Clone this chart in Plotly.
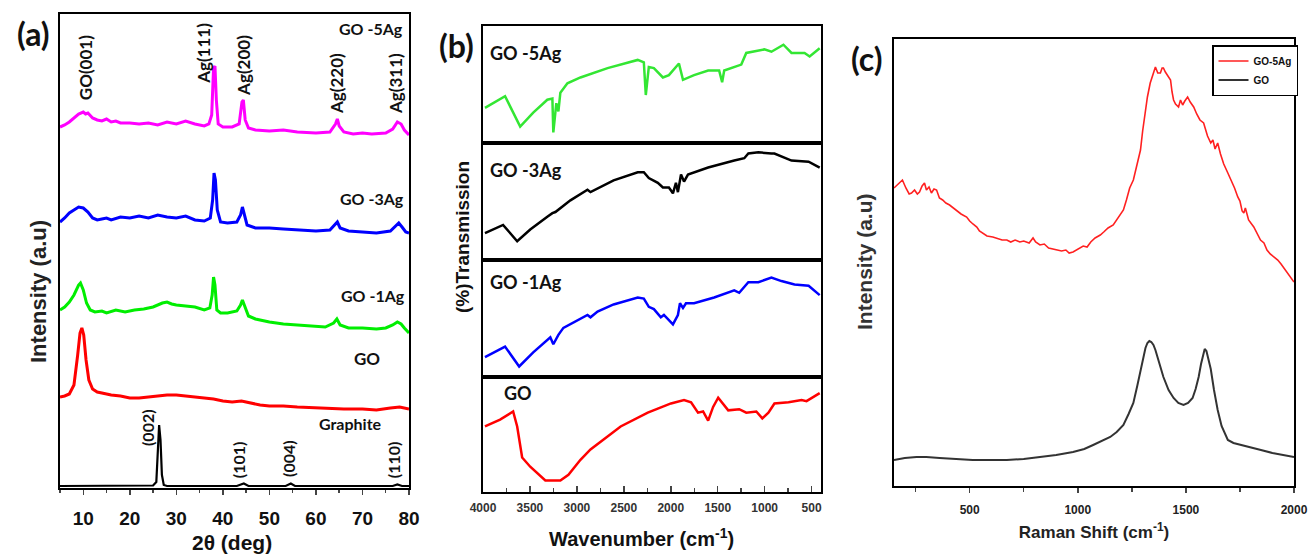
import plotly.graph_objects as go

W, H = 1309, 554

# ---------------- Panel (a): XRD ----------------
two_theta_5ag = [5, 6, 7, 8, 9, 10, 10.5, 11, 12, 13, 14, 15, 16, 17, 18, 20, 22, 24, 26, 28, 30, 32, 34, 36, 37,
                 37.6, 38.0, 38.3, 38.6, 39, 40, 42, 43.5, 44.1, 44.4, 44.8, 45.5, 47, 50, 53, 56, 60, 63, 64.2, 64.6,
                 65, 66, 68, 70, 72, 75, 76.5, 77.5, 78.3, 79, 80]
int_5ag = [361, 363, 366, 370, 374, 376, 374, 375, 370, 368, 367, 369, 366, 367, 365, 365, 364, 365, 363, 366, 364,
           367, 364, 362, 364, 373, 420, 422, 388, 364, 361, 361, 364, 386, 388, 368, 360, 358, 357, 358, 356, 355,
           356, 364, 369, 362, 356, 354, 355, 354, 355, 359, 366, 364, 358, 353]

two_theta_3ag = [5, 6, 7, 8, 9, 10, 11, 12, 13, 14, 15, 16, 18, 20, 22, 24, 26, 28, 30, 32, 34, 36, 37.3, 37.8, 38.1,
                 38.4, 38.8, 39.5, 41, 43, 43.8, 44.2, 44.6, 45.2, 47, 50, 53, 56, 60, 63, 64.2, 64.6, 65.2, 67, 70,
                 73, 76, 77.2, 77.8, 78.5, 79.3, 80]
int_3ag = [266, 270, 275, 278, 281, 280, 276, 270, 268, 269, 270, 268, 271, 270, 272, 270, 273, 271, 270, 272, 268,
           267, 270, 288, 315, 308, 278, 266, 265, 266, 273, 281, 273, 263, 260, 260, 259, 258, 257, 258, 264, 266,
           260, 257, 256, 255, 257, 263, 265, 261, 256, 255]

two_theta_1ag = [5, 6, 7, 8, 9, 9.4, 10, 10.7, 11.5, 12.5, 14, 15, 17, 19, 21, 23, 25, 27, 28, 29, 30, 32, 34, 36,
                 37.2, 37.7, 38.0, 38.3, 38.7, 39.5, 41, 43, 43.8, 44.2, 44.7, 45.5, 47, 50, 53, 56, 60, 62, 63.8,
                 64.5, 65.2, 67, 70, 73, 75, 76.5, 77.5, 78.3, 79, 80]
int_1ag = [178, 181, 186, 193, 203, 205, 198, 185, 178, 176, 177, 175, 178, 176, 178, 179, 181, 185, 186, 184, 183,
           182, 181, 178, 180, 193, 211, 203, 178, 175, 175, 177, 183, 188, 181, 172, 169, 166, 164, 163, 162, 161,
           165, 169, 163, 160, 160, 159, 160, 163, 166, 164, 160, 155]

two_theta_go = [5, 6, 7, 8, 8.8, 9.3, 9.7, 10.1, 10.6, 11.2, 12, 13, 14, 16, 18, 20, 22, 24, 26, 28, 30, 32, 34, 36,
                38, 40, 42, 44, 46, 48, 50, 53, 56, 60, 63, 66, 70, 73, 76, 78, 80]
int_go = [91, 92, 94, 103, 133, 155, 160, 153, 128, 108, 99, 96, 95, 93, 92, 90, 90, 91, 92, 93, 93, 92, 91, 90, 89,
          87, 86, 87, 85, 83, 82, 82, 81, 80, 80, 79, 79, 78, 80, 81, 79]

two_theta_gr = [5, 20, 25, 25.7, 26.0, 26.3, 26.6, 26.9, 27.3, 28, 43, 44.5, 45.5, 53.5, 54.6, 55.5, 76.5, 77.5,
                78.5, 80]
int_gr = [2, 2, 2.5, 6, 43, 63, 48, 13, 3, 2, 2, 4.5, 2, 2, 4.5, 2, 2, 3.5, 2, 2]

xrd_peak_labels = ["GO(001)", "Ag(111)", "Ag(200)", "Ag(220)", "Ag(311)"]
xrd_peak_pos = [10.4, 35.7, 44.3, 64.3, 77.0]
xrd_peak_y = [420, 435, 423, 405, 404]
graphite_labels = ["(002)", "(101)", "(004)", "(110)"]
graphite_pos = [23.7, 43.3, 54.0, 76.6]
graphite_y = [60, 28, 29, 28]
xrd_sample_labels = ["GO -5Ag", "GO -3Ag", "GO -1Ag", "GO", "Graphite"]
xrd_sample_x = [71.8, 72.0, 72.3, 71.0, 67.5]
xrd_sample_y = [460, 290, 193, 130, 65]

# ---------------- Panel (b): FTIR ----------------
wn_5ag = [3979, 3765, 3604, 3465, 3315, 3261, 3251, 3219, 3197, 3176, 3101, 2962, 2673, 2352, 2287, 2266, 2234, 2180,
          2084, 2020, 1913, 1870, 1752, 1602, 1485, 1453, 1431, 1324, 1249, 1196, 1003, 928, 800, 714, 575, 521, 414]
t_5ag = [30, 40, 14, 26, 37, 38, 9, 34, 27, 43, 51, 56, 64, 71, 69, 41, 65, 64, 56, 58, 68, 54, 58, 62, 62, 52, 62,
         65, 67, 77, 80, 78, 84, 77, 77, 74, 81]

wn_3ag = [3979, 3786, 3636, 3497, 3315, 3261, 3229, 3069, 2887, 2855, 2609, 2352, 2287, 2234, 2138, 2084, 2020, 1977,
          1945, 1924, 1891, 1859, 1817, 1602, 1324, 1217, 1174, 1067, 928, 896, 714, 532, 414]
t_3ag = [23, 30, 16, 26, 37, 40, 41, 51, 60, 58, 68, 75, 75, 70, 66, 62, 62, 57, 66, 58, 73, 67, 73, 79, 85, 87, 91,
         92, 91, 91, 85, 84, 79]

wn_1ag = [3979, 3765, 3615, 3465, 3283, 3251, 3197, 3144, 2887, 2855, 2780, 2609, 2352, 2287, 2234, 2180, 2106, 2073,
          1977, 1924, 1902, 1870, 1838, 1752, 1538, 1324, 1271, 1174, 1067, 928, 821, 682, 532, 414]
t_1ag = [17, 26, 9, 21, 34, 28, 36, 42, 53, 51, 56, 62, 68, 67, 60, 58, 51, 53, 45, 53, 63, 59, 63, 63, 68, 74, 72,
         81, 81, 85, 82, 79, 78, 70]

wn_go = [3979, 3818, 3679, 3636, 3583, 3497, 3336, 3176, 3090, 2962, 2855, 2534, 2245, 1998, 1859, 1784, 1710, 1656,
         1602, 1549, 1495, 1388, 1271, 1196, 1089, 1025, 960, 896, 746, 607, 554, 414]
t_go = [57, 63, 70, 57, 30, 22, 10, 10, 15, 28, 37, 57, 69, 77, 80, 78, 69, 70, 62, 74, 82, 71, 72, 69, 70, 64, 69,
        77, 78, 80, 79, 86]

ftir_labels = ["GO -5Ag", "GO -3Ag", "GO -1Ag", "GO"]
ftir_label_x = [3946, 3946, 3946, 3797]
ftir_label_y = [77, 77, 81, 86]

# ---------------- Panel (c): Raman ----------------
raman_5ag = [150, 170, 189, 205, 220, 231, 245, 258, 268, 280, 291, 300, 312, 323, 335, 347, 360, 375, 390, 407, 420,
             440, 460, 486, 500, 515, 533, 545, 560, 580, 607, 630, 650, 672, 690, 710, 732, 750, 775, 793, 805, 825,
             845, 865, 885, 904, 925, 945, 960, 978, 995, 1010, 1025, 1043, 1060, 1080, 1104, 1120, 1140, 1164,
             1180, 1195, 1211, 1225, 1240, 1257, 1270, 1280, 1290, 1300, 1310, 1322, 1335, 1345, 1359, 1370, 1382,
             1390, 1396, 1405, 1418, 1429, 1436, 1443, 1452, 1466, 1475, 1485, 1495, 1508, 1520, 1536, 1550, 1565,
             1582, 1590, 1600, 1615, 1625, 1635, 1647, 1660, 1675, 1694, 1710, 1725, 1740, 1750, 1760, 1768, 1775,
             1790, 1814, 1830, 1845, 1861, 1875, 1890, 1907, 1925, 1940, 1954, 1970, 1985, 2000]
i_5ag = [298, 302, 306, 298, 292, 293, 296, 292, 294, 300, 303, 296, 299, 293, 297, 296, 288, 286, 283, 281, 279, 276,
         272, 269, 265, 262, 259, 255, 253, 250, 249, 247, 246, 246, 244, 246, 244, 245, 243, 248, 244, 241, 242, 238,
         237, 236, 235, 236, 233, 234, 236, 238, 240, 239, 244, 248, 251, 254, 258, 261, 266, 272, 276, 286, 298, 306,
         318, 328, 336, 355, 372, 389, 403, 410, 419, 413, 413, 418, 418, 414, 410, 406, 394, 386, 382, 379, 386, 381,
         385, 389, 384, 379, 372, 366, 363, 356, 350, 343, 346, 337, 343, 332, 322, 313, 306, 298, 289, 285, 275, 273,
         278, 266, 259, 252, 246, 243, 236, 232, 229, 226, 222, 218, 213, 209, 204]

raman_go = [150, 200, 254, 300, 361, 420, 514, 600, 672, 750, 825, 900, 978, 1030, 1071, 1110, 1150, 1180, 1211, 1235,
            1257, 1275, 1290, 1303, 1313, 1322, 1331, 1340, 1350, 1359, 1375, 1396, 1420, 1443, 1465, 1489, 1510,
            1531, 1545, 1559, 1570, 1580, 1587, 1595, 1605, 1615, 1630, 1647, 1665, 1694, 1720, 1754, 1800, 1847,
            1900, 1954, 2000]
i_go = [26, 28, 29, 29, 28, 27, 26, 26, 26, 27, 29, 31, 34, 37, 41, 45, 49, 54, 61, 72, 83, 100, 116, 130, 138, 143,
        145, 144, 141, 136, 124, 109, 96, 88, 83, 81, 83, 88, 97, 109, 122, 133, 137, 135, 127, 117, 96, 76, 60, 46,
        43, 41, 38, 36, 33, 31, 29]

# ---------------- figure ----------------
def px(v):
    return v / W


def py(v):
    return 1 - v / H


fig = go.Figure()

xrd_series = [
    (two_theta_5ag, int_5ag, "#FF00FF"),
    (two_theta_3ag, int_3ag, "#0000FF"),
    (two_theta_1ag, int_1ag, "#00EE00"),
    (two_theta_go, int_go, "#FF0000"),
    (two_theta_gr, int_gr, "#000000"),
]
for xs, ys, c in xrd_series:
    fig.add_trace(go.Scatter(x=xs, y=ys, mode="lines", line=dict(color=c, width=3 if c != "#000000" else 2.2),
                             showlegend=False, xaxis="x", yaxis="y", hoverinfo="skip"))

ftir_series = [
    (wn_5ag, t_5ag, "#33E633", "x2", "y2"),
    (wn_3ag, t_3ag, "#000000", "x3", "y3"),
    (wn_1ag, t_1ag, "#0000FF", "x4", "y4"),
    (wn_go, t_go, "#FF0000", "x5", "y5"),
]
for xs, ys, c, xa, ya in ftir_series:
    fig.add_trace(go.Scatter(x=xs, y=ys, mode="lines", line=dict(color=c, width=2.5),
                             showlegend=False, xaxis=xa, yaxis=ya, hoverinfo="skip"))

fig.add_trace(go.Scatter(x=raman_5ag, y=i_5ag, mode="lines", name="GO-5Ag", line=dict(color="#FF2020", width=1.6),
                         xaxis="x6", yaxis="y6", hoverinfo="skip"))
fig.add_trace(go.Scatter(x=raman_go, y=i_go, mode="lines", name="GO", line=dict(color="#333333", width=2),
                         xaxis="x6", yaxis="y6", hoverinfo="skip"))

tickfont_a = dict(family="Liberation Sans, Arial", size=19, color="#111", weight="bold")
box = dict(showline=True, linecolor="black", linewidth=2, mirror=True, showgrid=False, zeroline=False,
           automargin=False)

layout = dict(
    width=W, height=H, autosize=False,
    margin=dict(l=0, r=0, t=0, b=0, pad=0),
    plot_bgcolor="white", paper_bgcolor="white",
    # panel a
    xaxis=dict(domain=[px(60), px(409)], range=[5, 80], anchor="y", tickmode="array",
               tickvals=[10, 20, 30, 40, 50, 60, 70, 80], ticks="outside", ticklen=5, tickwidth=1.5,
               minor=dict(ticks="outside", ticklen=3, dtick=5, tick0=5),
               tickfont=tickfont_a, ticklabelstandoff=7, **box),
    yaxis=dict(domain=[py(488), py(14)], range=[0, 474], anchor="x", showticklabels=False, ticks="", **box),
    # panel c
    xaxis6=dict(domain=[px(894), px(1294)], range=[150, 2000], anchor="y6", tickmode="linear", tick0=500, dtick=500,
                ticks="outside", ticklen=5, tickwidth=1.5,
                minor=dict(ticks="outside", ticklen=4, dtick=250, tick0=250),
                tickfont=dict(family="Liberation Sans Narrow, Liberation Sans, Arial", size=12, color="#222",
                              weight="bold"), ticklabelstandoff=7,
                title=dict(text="Raman Shift (cm<sup>-1</sup>)",
                           font=dict(family="Liberation Sans Narrow, Liberation Sans, Arial", size=17, color="#222",
                                     weight="bold"), standoff=10), **box),
    yaxis6=dict(domain=[py(486), py(39)], range=[0, 447], anchor="x6", showticklabels=False, ticks="", **box),
    legend=dict(x=px(1212), y=py(45), xanchor="left", yanchor="top", bgcolor="white", bordercolor="black",
                borderwidth=1.5, font=dict(family="Liberation Sans Narrow, Liberation Sans, Arial", size=10,
                                           color="#111", weight="bold"),
                itemwidth=30, tracegroupgap=0),
)

# panel b subplots
sub_bounds = [(26, 143), (143, 260), (260, 377), (377, 492)]
for i, (top, bot) in enumerate(sub_bounds):
    n = i + 2
    last = (i == 3)
    xa = dict(domain=[px(483), px(821)], range=[4000, 400], anchor=f"y{n}", **box)
    if last:
        xa.update(tickmode="linear", tick0=500, dtick=500, ticks="inside", ticklen=6, tickwidth=1.5,
                  minor=dict(ticks="inside", ticklen=4, dtick=250, tick0=250),
                  tickfont=dict(family="Liberation Sans, Arial", size=12, color="#333", weight="bold"),
                  ticklabelstandoff=4)
    else:
        xa.update(showticklabels=False, ticks="")
    layout[f"xaxis{n}"] = xa
    layout[f"yaxis{n}"] = dict(domain=[py(bot), py(top)], range=[0, 100], anchor=f"x{n}", showticklabels=False,
                               ticks="", **box)

fig.update_layout(**layout)

for t, xv, yv in zip(xrd_peak_labels, xrd_peak_pos, xrd_peak_y):
    fig.add_annotation(text=t, x=xv, y=yv, xref="x", yref="y", textangle=-90, showarrow=False,
                       xanchor="center", yanchor="middle",
                       font=dict(family="Lato, Open Sans, sans-serif", size=17, color="#111", weight="bold"))
for t, xv, yv in zip(graphite_labels, graphite_pos, graphite_y):
    fig.add_annotation(text=t, x=xv, y=yv, xref="x", yref="y", textangle=-90, showarrow=False,
                       xanchor="center", yanchor="middle",
                       font=dict(family="Lato, Open Sans, sans-serif", size=16, color="#111", weight="bold"))
for t, xv, yv in zip(xrd_sample_labels, xrd_sample_x, xrd_sample_y):
    fig.add_annotation(text=t, x=xv, y=yv, xref="x", yref="y", showarrow=False, xanchor="center", yanchor="middle",
                       font=dict(family="Lato, Open Sans, sans-serif", size=16 if t != "GO" else 17, color="#111",
                                 weight="bold"))
for i, (t, xv, yv) in enumerate(zip(ftir_labels, ftir_label_x, ftir_label_y)):
    n = i + 2
    fig.add_annotation(text=t, x=xv, y=yv, xref=f"x{n}", yref=f"y{n}", xanchor="left", yanchor="middle",
                       showarrow=False,
                       font=dict(family="Lato, Open Sans, sans-serif", size=18, color="#111", weight="bold"))

# axis titles placed as paper annotations
title_specs = [
    ("Intensity (a.u)", 38, 292, -90, 22, "#222"),
    ("2θ (deg)", 232, 542, 0, 21, "#111"),
    ("(%)Transmission", 463, 237, -90, 19, "#111"),
    ("Wavenumber (cm<sup>-1</sup>)", 641, 537, 0, 20, "#111"),
    ("Intensity (a.u)", 864, 262, -90, 21, "#333"),
]
for t, xc, yc, ang, sz, col in title_specs:
    fig.add_annotation(text=t, x=px(xc), y=py(yc), xref="paper", yref="paper", textangle=ang,
                       xanchor="center", yanchor="middle", showarrow=False,
                       font=dict(family="Liberation Sans, Arial", size=sz, color=col, weight="bold"))

for t, xc, yc in [("(a)", 33, 34), ("(b)", 456, 46), ("(c)", 867, 58)]:
    fig.add_annotation(text=t, x=px(xc), y=py(yc), xref="paper", yref="paper", showarrow=False,
                       xanchor="center", yanchor="middle",
                       font=dict(family="Lato, Open Sans, sans-serif", size=32, color="#111", weight="bold"))

fig.write_html("out.html", config={"displayModeBar": False, "staticPlot": True}, post_script=(
    "document.documentElement.style.margin='0';document.documentElement.style.overflow='hidden';"
    "document.body.style.margin='0';document.body.style.padding='0';document.body.style.overflow='hidden';"))
